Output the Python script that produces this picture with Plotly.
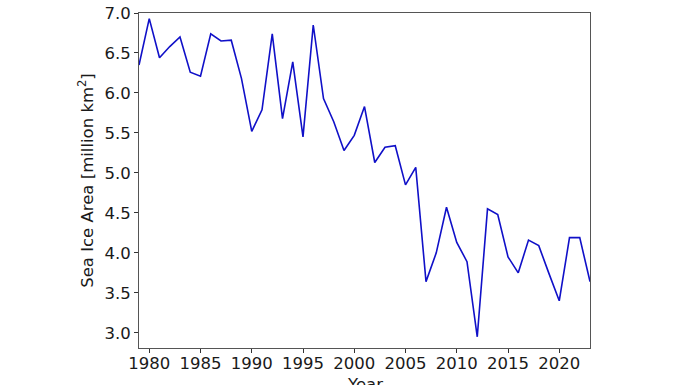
import plotly.graph_objects as go

years = list(range(1979, 2024))
sea_ice_area = [6.35, 6.93, 6.44, 6.58, 6.70, 6.26, 6.21, 6.74, 6.65, 6.66,
                6.18, 5.52, 5.79, 6.74, 5.68, 6.39, 5.45, 6.85, 5.93, 5.64,
                5.28, 5.47, 5.83, 5.13, 5.32, 5.34, 4.85, 5.07, 3.64, 4.00,
                4.57, 4.13, 3.89, 2.95, 4.55, 4.48, 3.95, 3.75, 4.16, 4.09,
                3.74, 3.40, 4.19, 4.19, 3.64]
x_ticks = [1980, 1985, 1990, 1995, 2000, 2005, 2010, 2015, 2020]
y_ticks = [3.0, 3.5, 4.0, 4.5, 5.0, 5.5, 6.0, 6.5, 7.0]

fig = go.Figure()
fig.add_trace(go.Scatter(x=years, y=sea_ice_area, mode="lines",
                         line=dict(color="#1010c8", width=1.6),
                         showlegend=False))

font = dict(family="DejaVu Sans", size=16.5, color="#1a1a1a")
axis_common = dict(showgrid=False, zeroline=False, showline=True, mirror=True,
                   linecolor="#555555", linewidth=1, ticks="outside",
                   ticklen=4, tickwidth=1, tickcolor="#333333",
                   tickfont=font, automargin=False, ticklabeloverflow="allow")

fig.update_layout(
    width=696, height=385,
    margin=dict(l=139, r=106, t=13, b=37),
    paper_bgcolor="white", plot_bgcolor="white",
    font=font,
    xaxis=dict(range=[1979, 2023], tickvals=x_ticks, ticklabelstandoff=-4,
               **axis_common),
    yaxis=dict(range=[2.81, 7.0], tickvals=y_ticks, tickformat=".1f",
               title=dict(text="Sea Ice Area [million km<sup>2</sup>]", font=font, standoff=6),
               **axis_common),
    annotations=[dict(text="Year", xref="paper", yref="paper", x=0.5, y=0,
                      xanchor="center", yanchor="top", yshift=-25,
                      showarrow=False, font=font)],
)

fig.write_html("out.html", config={"displayModeBar": False},
               post_script="document.body.style.margin='0px';")
